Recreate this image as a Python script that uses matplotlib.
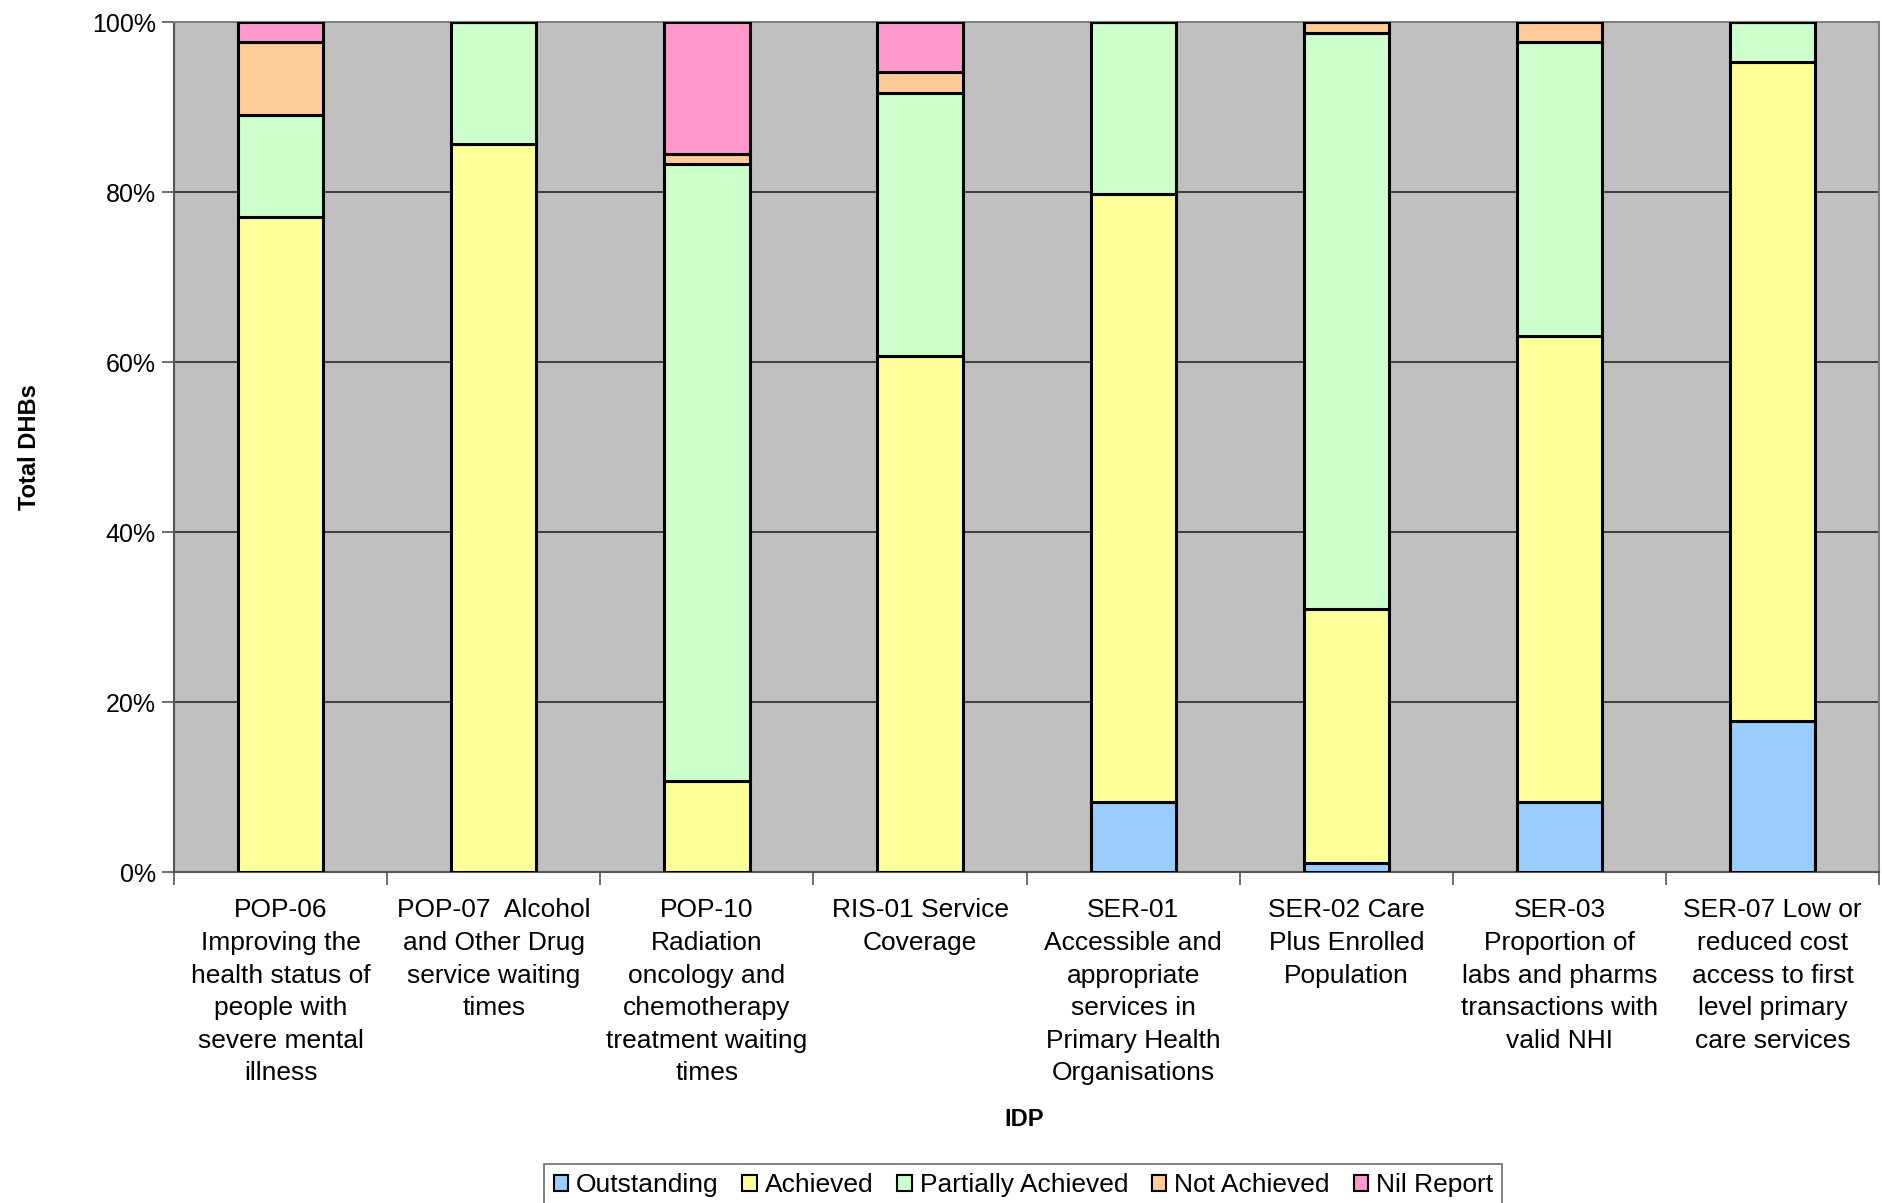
import numpy as np
import matplotlib
matplotlib.use("Agg")
import matplotlib.pyplot as plt

plt.rcParams['font.family'] = ['Liberation Sans', 'DejaVu Sans']

categories = [
    "POP-06\nImproving the\nhealth status of\npeople with\nsevere mental\nillness",
    "POP-07  Alcohol\nand Other Drug\nservice waiting\ntimes",
    "POP-10\nRadiation\noncology and\nchemotherapy\ntreatment waiting\ntimes",
    "RIS-01 Service\nCoverage",
    "SER-01\nAccessible and\nappropriate\nservices in\nPrimary Health\nOrganisations",
    "SER-02 Care\nPlus Enrolled\nPopulation",
    "SER-03\nProportion of\nlabs and pharms\ntransactions with\nvalid NHI",
    "SER-07 Low or\nreduced cost\naccess to first\nlevel primary\ncare services",
]

# shares in %
outstanding = [0, 0, 0, 0, 8.3, 1.1, 8.3, 17.8]
achieved = [77.1, 85.7, 10.7, 60.7, 71.5, 29.8, 54.8, 77.5]
partially = [12.0, 14.3, 72.6, 31.0, 20.2, 67.8, 34.5, 4.7]
not_achieved = [8.5, 0, 1.2, 2.4, 0, 1.3, 2.4, 0]
nil_report = [2.4, 0, 15.5, 5.9, 0, 0, 0, 0]

series = [
    ("Outstanding", outstanding, "#99CCFF"),
    ("Achieved", achieved, "#FFFF99"),
    ("Partially Achieved", partially, "#CCFFCC"),
    ("Not Achieved", not_achieved, "#FFCC99"),
    ("Nil Report", nil_report, "#FF99CC"),
]

fig = plt.figure(figsize=(18.83, 12.03), dpi=100)
ax = fig.add_axes([0.0924, 0.2751, 0.9056, 0.7066])
ax.set_facecolor("#C0C0C0")

x = np.arange(len(categories))
bottom = np.zeros(len(categories))
for name, vals, col in series:
    vals = np.array(vals, dtype=float)
    ax.bar(x, vals, width=0.4, bottom=bottom, color=col, edgecolor="black",
           linewidth=2.2, label=name, zorder=3)
    bottom += vals

ax.set_xlim(-0.5, len(categories) - 0.5)
ax.set_ylim(0, 100)
ax.set_yticks(np.arange(0, 101, 20))
ax.set_yticklabels([f"{v}%" for v in range(0, 101, 20)], fontsize=18)
ax.yaxis.grid(True, color="#333333", linewidth=1.3, zorder=1)
ax.set_axisbelow(True)

# category labels between boundary ticks
ax.set_xticks(np.arange(-0.5, len(categories), 1.0))
ax.set_xticklabels([])
ax.set_xticks(x, minor=True)
ax.set_xticklabels(categories, minor=True, fontsize=19, linespacing=1.45, va="top")
ax.tick_params(axis="x", which="minor", length=0, pad=19)
ax.tick_params(axis="x", which="major", length=9, width=1.2, color="#555555")
ax.tick_params(axis="y", length=9, width=1.2, color="#555555", pad=4)

for s in ["top", "right"]:
    ax.spines[s].set_color("#808080")
    ax.spines[s].set_linewidth(1.5)
ax.spines["left"].set_color("#555555")
ax.spines["bottom"].set_color("#555555")
ax.spines["left"].set_linewidth(1.5)
ax.spines["bottom"].set_linewidth(1.5)

ax.set_ylabel("Total DHBs", fontsize=17, fontweight="bold", labelpad=37)
fig.text(0.544, 1 - 1119 / 1203, "IDP", fontsize=17, fontweight="bold",
         ha="center", va="center")

leg = fig.legend(loc="lower center", bbox_to_anchor=(0.5435, -0.014), ncol=5,
                 fontsize=19, frameon=True, fancybox=False, handlelength=0.55,
                 handleheight=0.55, handletextpad=0.3, columnspacing=0.9,
                 borderpad=0.35)
leg.get_frame().set_edgecolor("#555555")
leg.get_frame().set_linewidth(1.3)
for h in leg.legend_handles:
    h.set_linewidth(1.5)

fig.savefig("out.png", dpi=100)
